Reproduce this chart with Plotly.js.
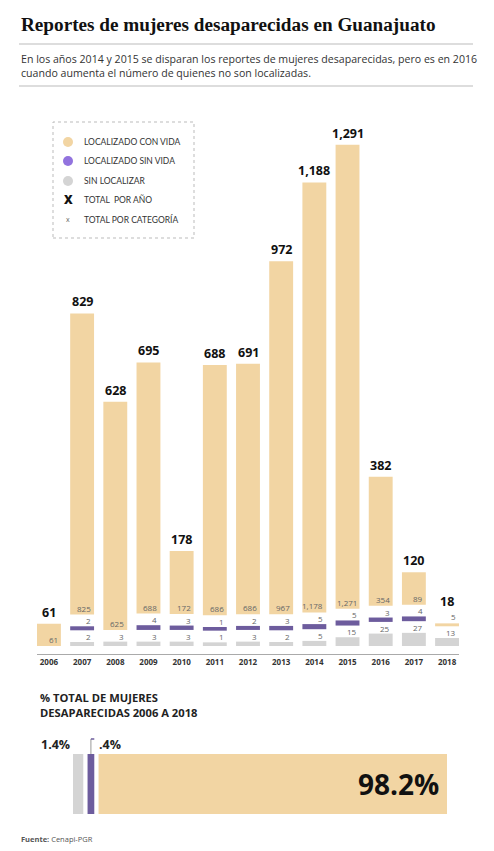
<!DOCTYPE html>
<html><head><meta charset="utf-8">
<script src="https://cdn.plot.ly/plotly-3.0.1.min.js"></script>
<style>html,body{margin:0;padding:0;background:#fff}</style>
</head><body><div id="chart" style="width:494px;height:851px"></div>
<script>
// ---- data ----
const years = ['2006','2007','2008','2009','2010','2011','2012','2013','2014','2015','2016','2017','2018'];
const conVida = [61,825,625,688,172,686,686,967,1178,1271,354,89,5];
const sinVida = [0,2,0,4,3,1,2,3,5,5,3,4,0];
const sinLocalizar = [0,2,3,3,3,1,3,2,5,15,25,27,13];
const totals = [61,829,628,695,178,688,691,972,1188,1291,382,120,18];
const pctNames = ['SIN LOCALIZAR','LOCALIZADO SIN VIDA','LOCALIZADO CON VIDA'];
const pctValues = [1.4, 0.4, 98.2];
const pctLabels = ['1.4%', '.4%', '98.2%'];
const legendLabels = ['LOCALIZADO CON VIDA','LOCALIZADO SIN VIDA','SIN LOCALIZAR','TOTAL  POR AÑO','TOTAL POR CATEGORÍA'];

// ---- styling ----
const W = 494, H = 851;
const X = px => px / W, Y = px => 1 - px / H;
const C_PEACH = '#F2D5A3', C_PURPLE = '#6D5C9D', C_GRAY = '#D4D4D4', C_LEG_PURPLE = '#9273DE';
const PX_PER_UNIT = 0.365, GAP = 32, EXTRA = 9, MIN_PEACH = 8;

// stacked layout with gaps
const gH=[],gB=[],pH=[],pB=[],cH=[],cB=[],tops=[];
years.forEach((y,i)=>{
  let cur = 0;
  const seg = (v, h) => { if (!v) return [0, cur]; const b = cur > 0 ? cur + GAP : cur; cur = b + h; return [h, b]; };
  let r = seg(sinLocalizar[i], sinLocalizar[i] + EXTRA); gH.push(r[0]); gB.push(r[1]);
  r = seg(sinVida[i], sinVida[i] + EXTRA); pH.push(r[0]); pB.push(r[1]);
  r = seg(conVida[i], Math.max(conVida[i], MIN_PEACH)); cH.push(r[0]); cB.push(r[1]);
  tops.push(cur);
});

const axisBottomPx = 654, barBasePx = 646, topPx = 100;
const yLow = -(axisBottomPx - barBasePx) / PX_PER_UNIT;
const yHigh = yLow + (axisBottomPx - topPx) / PX_PER_UNIT;

const barCommon = {type:'bar', x: years, width: 0.72, hoverinfo:'text', showlegend:false};
const traces = [
  Object.assign({}, barCommon, {y: gH, base: gB, marker:{color: C_GRAY}, text: sinLocalizar.map(String), textposition:'none', name:'Sin localizar'}),
  Object.assign({}, barCommon, {y: pH, base: pB, marker:{color: C_PURPLE}, text: sinVida.map(String), textposition:'none', name:'Localizado sin vida'}),
  Object.assign({}, barCommon, {y: cH, base: cB, marker:{color: C_PEACH}, text: conVida.map(String), textposition:'none', name:'Localizado con vida'})
];

// percent bar
const pctDisp = pctValues.map(v => v < 5 ? v + 1.5 : v);
const PGAP = 1.2;
const pctBase = []; let pc = 0;
pctDisp.forEach((d,i)=>{ const b = i ? pc + PGAP : pc; pctBase.push(b); pc = b + d; });
traces.push({type:'bar', orientation:'h', y:[0,0,0], x:pctDisp, base:pctBase, width:1,
  marker:{color:[C_GRAY, C_PURPLE, C_PEACH]}, xaxis:'x2', yaxis:'y2', showlegend:false,
  text: pctLabels, textposition:'none', hoverinfo:'text'});

const ann = [];
const smallFont = {family:'Open Sans', size:8, color:'#666'};
years.forEach((y,i)=>{
  const inside = conVida[i] >= 20;
  ann.push({x:i, y:tops[i], xref:'x', yref:'y', yanchor:'bottom', yshift: inside ? 1 : 11, showarrow:false,
    text: totals[i].toLocaleString('en-US'), font:{family:'Open Sans', size:12.5, color:'#111', weight:700}});
  if (conVida[i]) {
    ann.push({x:i, y: inside ? cB[i] : cB[i] + cH[i], xref:'x', yref:'y', xanchor:'right', xshift:11,
      yanchor:'bottom', yshift: -1, showarrow:false, text: conVida[i].toLocaleString('en-US'), font: smallFont});
  }
  if (sinVida[i]) ann.push({x:i, y:pB[i]+pH[i], xref:'x', yref:'y', xanchor:'right', xshift:11, yanchor:'bottom', yshift:-2,
    showarrow:false, text:String(sinVida[i]), font: smallFont});
  if (sinLocalizar[i]) ann.push({x:i, y:gB[i]+gH[i], xref:'x', yref:'y', xanchor:'right', xshift:11, yanchor:'bottom', yshift:-2,
    showarrow:false, text:String(sinLocalizar[i]), font: smallFont});
});

// header texts
ann.push({x:X(19), y:Y(25), xref:'paper', yref:'paper', xanchor:'left', yanchor:'middle', showarrow:false,
  text:'Reportes de mujeres desaparecidas en Guanajuato', font:{family:'Liberation Serif', size:19.2, color:'#111', weight:700}});
ann.push({x:X(19), y:Y(66), xref:'paper', yref:'paper', xanchor:'left', yanchor:'middle', align:'left', showarrow:false,
  text:'En los años 2014 y 2015 se disparan los reportes de mujeres desaparecidas, pero es en 2016<br>cuando aumenta el número de quienes no son localizadas.',
  font:{family:'Open Sans', size:10.6, color:'#333'}});

// legend
const legY = [142, 161, 181, 200, 219];
legendLabels.forEach((t,i)=>{
  ann.push({x:X(82), y:Y(legY[i]), xref:'paper', yref:'paper', xanchor:'left', yanchor:'middle', showarrow:false,
    text:t, font:{family:'Lato', size:8.5, color:'#333'}});
});
ann.push({x:X(68), y:Y(200), xref:'paper', yref:'paper', xanchor:'center', yanchor:'middle', showarrow:false,
  text:'X', font:{family:'Open Sans', size:12, color:'#111', weight:800}});
ann.push({x:X(68), y:Y(219), xref:'paper', yref:'paper', xanchor:'center', yanchor:'middle', showarrow:false,
  text:'x', font:{family:'Open Sans', size:7, color:'#666'}});

// bottom section
ann.push({x:X(38), y:Y(705), xref:'paper', yref:'paper', xanchor:'left', yanchor:'middle', align:'left', showarrow:false,
  text:'% TOTAL DE MUJERES<br>DESAPARECIDAS 2006 A 2018', font:{family:'Open Sans', size:11.2, color:'#222', weight:700}});
ann.push({x:pctBase[0], y:Y(744), xref:'x2', yref:'paper', xanchor:'right', xshift:-1, yanchor:'middle', showarrow:false,
  text:pctLabels[0], font:{family:'Open Sans', size:12.5, color:'#222', weight:700}});
ann.push({x:pctBase[2], y:Y(744), xref:'x2', yref:'paper', xanchor:'left', xshift:-2, yanchor:'middle', showarrow:false,
  text:pctLabels[1], font:{family:'Open Sans', size:12.5, color:'#222', weight:700}});
ann.push({x:pctBase[2]+pctDisp[2], y:0, xref:'x2', yref:'y2', xanchor:'right', xshift:-6, yanchor:'middle', showarrow:false,
  text:pctLabels[2], font:{family:'Open Sans', size:28, color:'#111', weight:700}});
ann.push({x:X(19), y:Y(839), xref:'paper', yref:'paper', xanchor:'left', yanchor:'middle', showarrow:false,
  text:'<b>Fuente:</b> Cenapi-PGR', font:{family:'Open Sans', size:7.5, color:'#555'}});

const shapes = [
  {type:'line', xref:'paper', yref:'paper', x0:X(19), x1:X(473), y0:Y(44), y1:Y(44), line:{color:'#bbb', width:1}},
  {type:'line', xref:'paper', yref:'paper', x0:X(19), x1:X(473), y0:Y(86), y1:Y(86), line:{color:'#bbb', width:1}},
  {type:'rect', xref:'paper', yref:'paper', x0:X(53), x1:X(194), y0:Y(238), y1:Y(122), line:{color:'#bbb', width:1, dash:'dot'}},
  {type:'circle', xref:'paper', yref:'paper', x0:X(63), x1:X(73), y0:Y(147), y1:Y(137), fillcolor:C_PEACH, line:{width:0}},
  {type:'circle', xref:'paper', yref:'paper', x0:X(63), x1:X(73), y0:Y(166), y1:Y(156), fillcolor:C_LEG_PURPLE, line:{width:0}},
  {type:'circle', xref:'paper', yref:'paper', x0:X(63), x1:X(73), y0:Y(186), y1:Y(176), fillcolor:C_GRAY, line:{width:0}},
  // leader for .4%
  {type:'line', xref:'x2', yref:'paper', x0:pctBase[1]+pctDisp[1]/2, x1:pctBase[1]+pctDisp[1]/2, y0:Y(754), y1:Y(739), line:{color:'#999', width:1}},
  {type:'line', xref:'x2', yref:'paper', x0:pctBase[1]+pctDisp[1]/2, x1:pctBase[1]+pctDisp[1], y0:Y(739), y1:Y(739), line:{color:C_PURPLE, width:1.5}}
];

const layout = {
  width: W, height: H, margin:{l:0,r:0,t:0,b:0}, paper_bgcolor:'#fff', plot_bgcolor:'rgba(0,0,0,0)',
  barmode:'overlay', showlegend:false,
  xaxis:{domain:[X(37), X(459)], type:'category', range:[-0.36, years.length - 0.64], showgrid:false, zeroline:false,
    showline:true, linecolor:'#aaa', linewidth:1, ticks:'', tickfont:{family:'Open Sans', size:8, color:'#333', weight:700}, fixedrange:true},
  yaxis:{domain:[Y(axisBottomPx), Y(topPx)], range:[yLow, yHigh], visible:false, fixedrange:true},
  xaxis2:{domain:[X(73), X(447)], range:[0, pc], visible:false, anchor:'y2', fixedrange:true},
  yaxis2:{domain:[Y(814), Y(754)], range:[-0.5, 0.5], visible:false, anchor:'x2', fixedrange:true},
  annotations: ann, shapes: shapes
};
Plotly.newPlot('chart', traces, layout, {displayModeBar:false, staticPlot:true});
</script></body></html>
